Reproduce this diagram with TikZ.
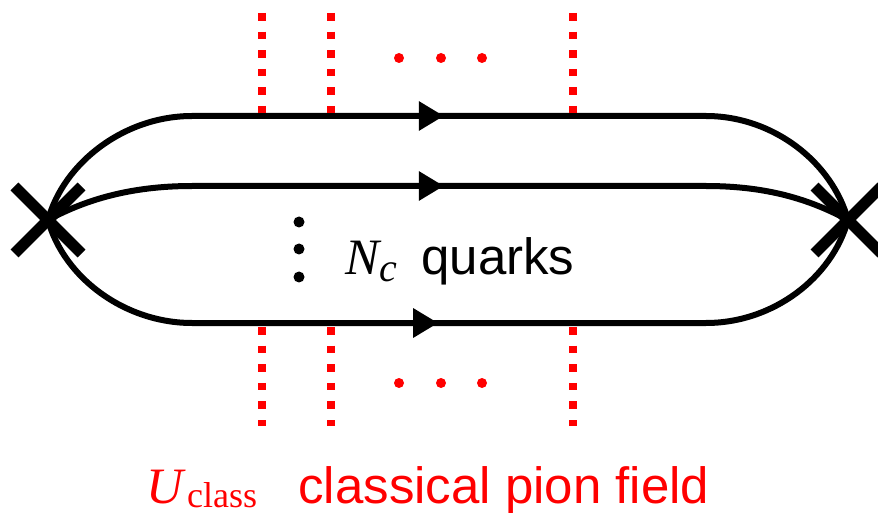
\documentclass[tikz,border=0pt]{standalone}
\usepackage{fontspec}
\setmainfont{Liberation Sans}
\newfontfamily\timesfont{Liberation Serif}
\usetikzlibrary{arrows.meta,calc,shapes.misc}
\definecolor{Field}{HTML}{FF0000}
\tikzset{quark/.style={line width=3pt,black},quarktip/.style={quark,-{Triangle[length=12.5pt,width=14pt]}},cut/.style={draw=Field,line width=3.8pt,dash pattern=on 3.8pt off 5.5pt},vertex/.style={cross out,draw,line width=5.5pt,minimum size=28pt,inner sep=0pt},blob/.style={circle,fill=#1,inner sep=0pt,minimum size=5.5pt},txt/.style={inner sep=0pt,anchor=base west,font=\fontsize{25.5}{30}\selectfont}}

\begin{document}
\begin{tikzpicture}[x=0.5pt,y=-0.5pt]
      \useasboundingbox (0,0) rectangle (878,513);
      \node[vertex](L) at (48,220){};
      \node[vertex](R) at (848,220){};
      \coordinate (a1) at (192,116);\coordinate (a2) at (706,116);
      \coordinate (b1) at (192,186);\coordinate (b2) at (706,186);
      \coordinate (c1) at (192,323);\coordinate (c2) at (706,323);
      % quark lines
      \draw[quark](L.center) .. controls (64,162) and (125,116) .. (a1) -- (a2) .. controls (773,116) and (832,162) .. (R.center);
      \draw[quark](L.center) .. controls (85,200) and (130,186) .. (b1) -- (b2) .. controls (768,186) and (811,200) .. (R.center);
      \draw[quark](L.center) .. controls (64,278) and (125,323) .. (c1) -- (c2) .. controls (773,323) and (832,278) .. (R.center);
      \draw[quarktip](a1) -- ($(a1)!.49!(a2)$);
      \draw[quarktip](b1) -- ($(b1)!.49!(b2)$);
      \draw[quarktip](c1) -- ($(c1)!.479!(c2)$);
      % cuts by the classical field
      \foreach \x in {262,331,573}{
        \coordinate (t\x) at (\x,13);\coordinate (m\x) at (\x,113);
        \coordinate (n\x) at (\x,327);\coordinate (u\x) at (\x,426);
        \draw[cut](t\x) -- (m\x);
        \draw[cut](n\x) -- (u\x);
      }
      \foreach \x in {399,441,482}{
        \node[blob=Field,minimum size=5pt](d\x) at (\x,58){};
        \node[blob=Field,minimum size=5pt](e\x) at (\x,383){};
      }
      \foreach \y in {222,249,277}\node[blob=black](v\y) at (299,\y){};
      % labels
      \node[txt](nc) at (345,275){\timesfont\itshape N\raisebox{-3.5pt}{\fontsize{20}{24}\selectfont c}};
      \node[txt](quarks) at (421,275){quarks};
      \node[txt,text=Field](uclass) at (146,503){\timesfont\itshape U\hspace{2pt}\raisebox{-2pt}{\upshape\fontsize{18}{22}\selectfont class}};
      \node[txt,text=Field](pion) at (298,503){classical pion field};
    \end{tikzpicture}
\end{document}
